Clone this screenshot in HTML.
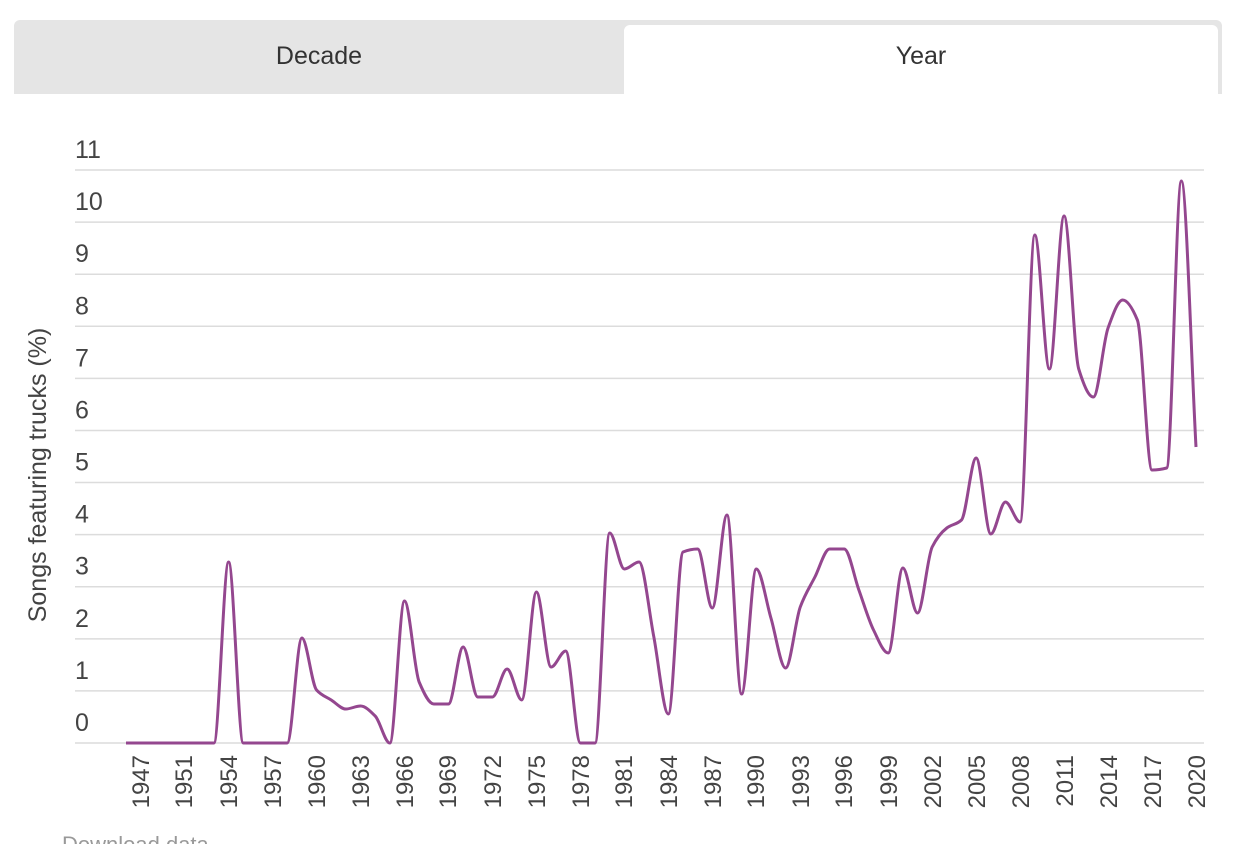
<!DOCTYPE html>
<html><head><meta charset="utf-8"><style>
body{margin:0;width:1242px;height:844px;background:#fff;overflow:hidden;font-family:"Liberation Sans",sans-serif;position:relative}
.tabs{position:absolute;left:14px;top:20px;width:1208px;height:74px;background:#e5e5e5;border-radius:6px 6px 0 0}
.t{position:absolute;top:0;height:74px;line-height:72px;text-align:center;font-size:25px;color:#333}
</style></head><body>
<div class="tabs">
<div class="t" style="left:0;width:610px">Decade</div>
<div class="t" style="left:610px;top:5px;height:69px;line-height:62px;width:594px;background:#fff;border-radius:6px 6px 0 0">Year</div>
</div>
<svg id="s" width="1242" height="844" style="position:absolute;left:0;top:0" font-family="Liberation Sans, sans-serif"></svg>
<script>
var s=document.getElementById('s'),h='';
for(var v=0;v<=11;v++){var y=743-52.09*v;h+='<line x1="75" x2="1204" y1="'+y+'" y2="'+y+'" stroke="#dcdcdc" stroke-width="1.5"/>';
h+='<text x="75" y="'+(y-12)+'" font-size="25" fill="#444">'+v+'</text>';}
h+='<text transform="translate(46,475) rotate(-90)" text-anchor="middle" font-size="25" fill="#444">Songs featuring trucks (%)</text>';
var L=[[1947,140],[1951,183],[1954,228],[1957,272],[1960,316],[1963,360],[1966,404],[1969,447],[1972,492],[1975,536],[1978,580],[1981,623],[1984,668],[1987,712],[1990,755],[1993,800],[1996,843],[1999,888],[2002,932],[2005,976],[2008,1020],[2011,1064],[2014,1108],[2017,1152],[2020,1196]];
L.forEach(function(l){h+='<text transform="translate('+(l[1]+9)+',755) rotate(-90)" text-anchor="end" font-size="24" fill="#444">'+l[0]+'</text>';});
var ys=[743,743,743,743,743,743,743,562,743,743,743,743,638,690,700,709,706,716,743,601,682,704,704,647,697,697,669,700,592,667,651,743,743,533,569,562,636,714,552,549,608,515,694,569,618,668,607,577,549,549,590,630,653,568,613,547,528,520,458,534,502,522,235,369,216,369,397,328,300,320,470,468,181,447];
var n=ys.length,X=[],dx=1070/(n-1);for(var i=0;i<n;i++)X.push(126+i*dx);
var sl=[],m=[];for(var i=0;i<n-1;i++)sl.push((ys[i+1]-ys[i])/dx);
m[0]=sl[0];m[n-1]=sl[n-2];
for(var i=1;i<n-1;i++){var a=sl[i-1],b=sl[i];m[i]=(a*b<=0)?0:2/(1/a+1/b);}
var d='M'+X[0]+','+ys[0];
for(var i=0;i<n-1;i++){d+='C'+(X[i]+dx/3)+','+(ys[i]+m[i]*dx/3)+' '+(X[i+1]-dx/3)+','+(ys[i+1]-m[i+1]*dx/3)+' '+X[i+1]+','+ys[i+1];}
h+='<path d="'+d+'" fill="none" stroke="#94478f" stroke-width="3"/>';
h+='<text x="62" y="852" font-size="22" fill="#999">Download data</text>';
s.innerHTML=h;
</script>
</body></html>
